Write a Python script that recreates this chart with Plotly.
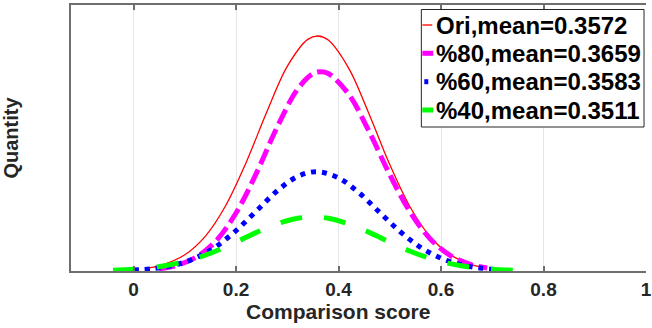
import plotly.graph_objects as go

# ---- data ----
ori_x = [0.03, 0.06, 0.10, 0.14, 0.18, 0.22, 0.26, 0.30, 0.34, 0.36, 0.38, 0.42, 0.46, 0.50, 0.54, 0.58, 0.62, 0.66, 0.69]
ori_y = [3.1, 6.7, 16.2, 34.7, 65.5, 108.8, 159.0, 204.6, 231.6, 235.0, 230.9, 202.6, 156.5, 106.4, 63.7, 33.5, 15.6, 6.4, 3.0]

p80_x = [0.05, 0.08, 0.12, 0.16, 0.20, 0.24, 0.28, 0.32, 0.35, 0.365, 0.38, 0.42, 0.46, 0.50, 0.54, 0.58, 0.62, 0.66, 0.69]
p80_y = [2.2, 5.0, 13.1, 29.6, 58.0, 98.1, 143.6, 181.8, 197.3, 199.3, 197.5, 176.7, 139.1, 96.4, 58.8, 31.6, 14.9, 6.2, 3.0]

p60_x = [0.0, 0.04, 0.08, 0.12, 0.16, 0.20, 0.24, 0.28, 0.32, 0.357, 0.40, 0.44, 0.48, 0.52, 0.56, 0.60, 0.64, 0.68, 0.71]
p60_y = [0.9, 2.5, 6.0, 12.8, 24.1, 40.4, 60.2, 80.0, 94.5, 99.3, 93.1, 78.2, 58.7, 39.5, 23.7, 12.8, 6.2, 2.7, 1.3]

p40_x = [-0.04, 0.0, 0.04, 0.08, 0.12, 0.16, 0.20, 0.24, 0.28, 0.32, 0.35, 0.38, 0.42, 0.46, 0.50, 0.54, 0.58, 0.62, 0.66, 0.70, 0.74]
p40_y = [0.8, 1.8, 3.7, 7.1, 12.4, 19.8, 28.9, 38.6, 47.1, 52.7, 54.0, 52.7, 47.1, 38.6, 28.9, 19.8, 12.4, 7.1, 3.7, 1.8, 0.8]

series_names = ["Ori,mean=0.3572", "%80,mean=0.3659", "%60,mean=0.3583", "%40,mean=0.3511"]
x_ticks = [0, 0.2, 0.4, 0.6, 0.8, 1]
x_tick_labels = ["0", "0.2", "0.4", "0.6", "0.8", "1"]

# ---- styles ----
colors = ["#ff0000", "#ff00ff", "#0000ff", "#00ff00"]
widths = [1.3, 5, 5, 5]
dashes = ["solid", "16px,6px", "5px,6px", "22px,22px"]

W, H = 652, 328
L, R, T, B = 71, 0, 5, 57
FONT = "Liberation Sans, Arial, Helvetica, sans-serif"

fig = go.Figure()
for xs, ys, name, c, w, d in zip([ori_x, p80_x, p60_x, p40_x], [ori_y, p80_y, p60_y, p40_y],
                                  series_names, colors, widths, dashes):
    fig.add_trace(go.Scatter(x=xs, y=ys, mode="lines", name=name, showlegend=False,
                             line=dict(color=c, width=w, dash=d, shape="spline", smoothing=1.0)))

# ---- manual legend (small symbols like the reference) ----
pw = W - L - R
ph = H - T - B

def px_x(px):
    return (px - L) / pw

def px_y(py):
    return (H - B - py) / ph

box = dict(x0=425, x1=650, y0=9.5, y1=127)
fig.add_shape(type="rect", xref="paper", yref="paper",
              x0=px_x(box["x0"]), x1=px_x(box["x1"]), y0=px_y(box["y1"]), y1=px_y(box["y0"]),
              line=dict(color="#262626", width=1), fillcolor="white", layer="above")
row_y = [25, 53.3, 81.7, 110]
sym = [(426, 436, 1.3), (426, 437, 5), (428, 432, 5), (426, 437, 5)]
for ry, (sx0, sx1, sw), c, name in zip(row_y, sym, colors, series_names):
    fig.add_shape(type="line", xref="paper", yref="paper",
                  x0=px_x(sx0), x1=px_x(sx1), y0=px_y(ry), y1=px_y(ry),
                  line=dict(color=c, width=sw), layer="above")
    fig.add_annotation(xref="paper", yref="paper", x=px_x(437.5), y=px_y(ry),
                       xanchor="left", yanchor="middle", showarrow=False,
                       text="<b>%s</b>" % name,
                       font=dict(family=FONT, size=24, color="#000000"))

# x-axis title (centred where the reference puts it)
fig.add_annotation(xref="paper", yref="paper", x=px_x(341), y=px_y(311),
                   xanchor="center", yanchor="middle", showarrow=False,
                   text="<b>Comparison score</b>",
                   font=dict(family=FONT, size=21, color="#262626"))

axis_color = "#6e6e6e"
fig.update_layout(
    width=W, height=H,
    margin=dict(l=L, r=R, t=T, b=B, pad=0),
    paper_bgcolor="white", plot_bgcolor="white",
    font=dict(family=FONT, color="#262626"),
    xaxis=dict(range=[-0.122, 1.0], tickvals=x_ticks, ticktext=["<b>%s</b>" % t for t in x_tick_labels],
               showgrid=True, gridcolor="#e6e6e6", gridwidth=1, zeroline=False,
               showline=True, linecolor=axis_color, linewidth=1.5, mirror="ticks",
               ticks="inside", ticklen=5, tickcolor=axis_color, tickwidth=1.5,
               tickfont=dict(size=19, color="#262626"), ticklabeloverflow="allow"),
    yaxis=dict(range=[0, 266], showticklabels=False, ticks="", showgrid=False, zeroline=False,
               showline=True, linecolor=axis_color, linewidth=1.5,
               title=dict(text="<b>Quantity</b>", font=dict(size=20, color="#262626"), standoff=46)),
)

fig.write_html("out.html", config={"displayModeBar": False},
               post_script="document.body.style.margin='0';document.body.style.padding='0';")
